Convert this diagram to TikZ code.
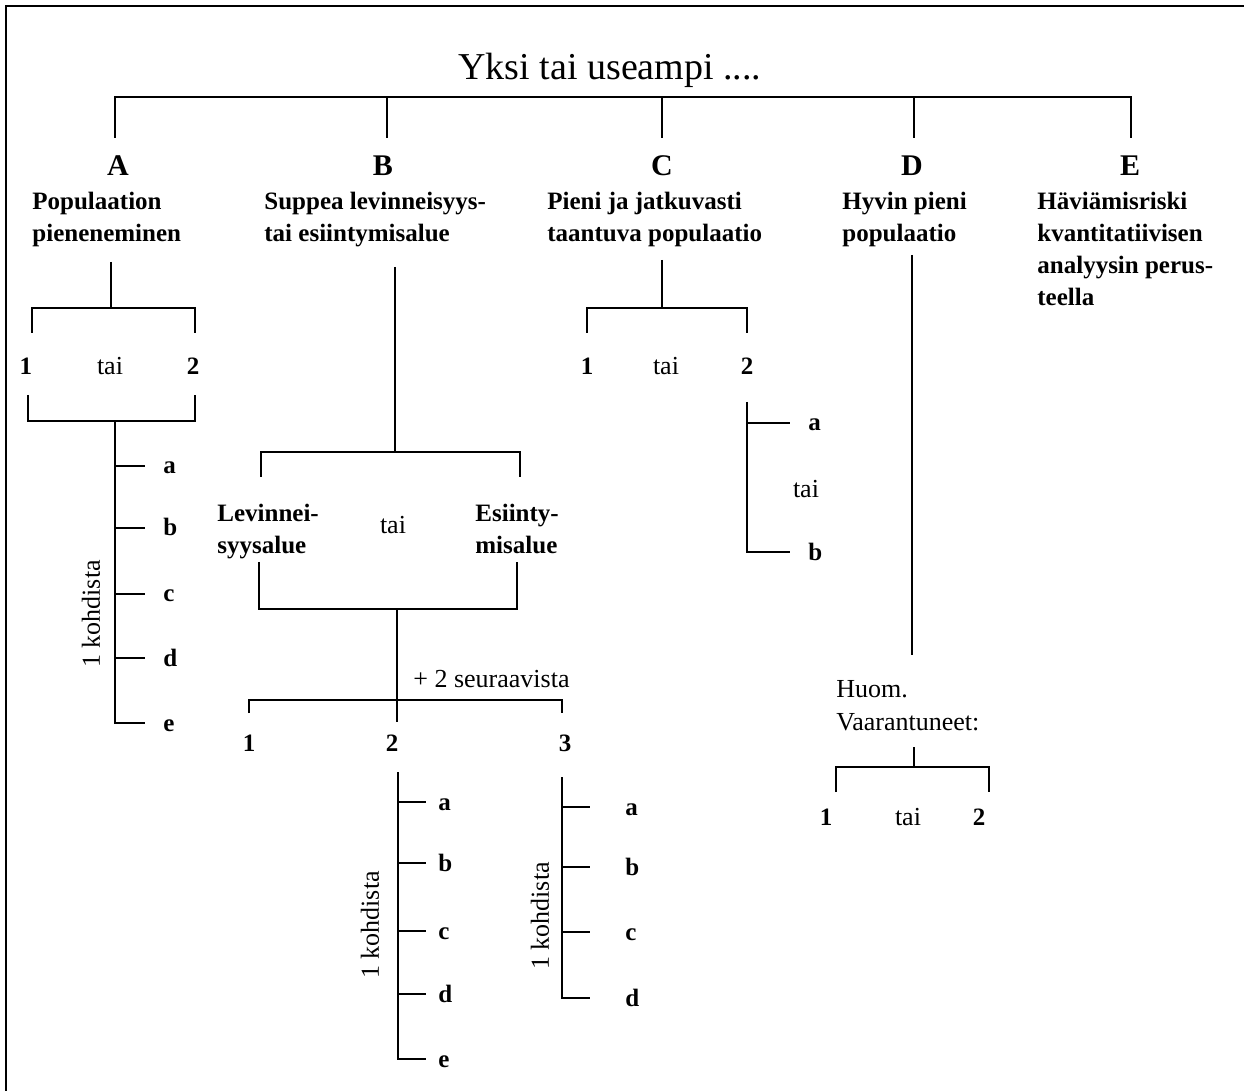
\documentclass[tikz,border=0pt]{standalone}
\usepackage{fontspec}
\setmainfont{Liberation Serif}
\usetikzlibrary{positioning}

\begin{document}
\begin{tikzpicture}[
    x=0.5pt, y=-0.5pt,
    tree/.style={line width=1pt},
    frame/.style={line width=1pt},
    title/.style={font=\fontsize{19}{23}\selectfont, anchor=base, inner sep=0pt},
    letter/.style={font=\bfseries\fontsize{15}{18}\selectfont, anchor=base, inner sep=0pt},
    head/.style={font=\bfseries\fontsize{12.5}{16}\selectfont, align=left, anchor=base west, inner sep=0pt},
    choice/.style={font=\bfseries\fontsize{12.5}{15}\selectfont, anchor=base, inner sep=0pt},
    word/.style={font=\fontsize{13}{16.5}\selectfont, anchor=base, inner sep=0pt},
    item/.style={font=\bfseries\fontsize{12.5}{15}\selectfont, anchor=west, inner sep=0pt, text height=8pt, text depth=0pt},
    tick/.style={tree, shorten >=#1},
    tick/.default=9pt,
    count/.style={font=\fontsize{13}{16}\selectfont, rotate=90, inner sep=0pt}
]
\useasboundingbox (0,0) rectangle (1244,1091);

% Frame
\coordinate (fTL) at (6,6);
\coordinate (fTR) at (1244,6);
\coordinate (fBL) at (6,1091);
\draw[frame] (fTR) -- (fTL) -- (fBL);

% Title and top bar
\node[title] (title) at (610,80) {Yksi tai useampi ....};
\coordinate (tA) at (115,97);
\coordinate (tB) at (387,97);
\coordinate (tC) at (662,97);
\coordinate (tD) at (914,97);
\coordinate (tE) at (1131,97);
\coordinate (dA) at (115,138);
\coordinate (dB) at (387,138);
\coordinate (dC) at (662,138);
\coordinate (dD) at (914,138);
\coordinate (dE) at (1131,138);
\draw[tree] (dA) -- (tA) -- (tE) -- (dE);
\draw[tree] (tB) -- (dB);
\draw[tree] (tC) -- (dC);
\draw[tree] (tD) -- (dD);

% Letters
\node[letter] (letA) at (118,176) {A};
\node[letter] (letB) at (383,176) {B};
\node[letter] (letC) at (662,176) {C};
\node[letter] (letD) at (912,176) {D};
\node[letter] (letE) at (1130,176) {E};

% Criteria (anchored at the baseline of the last line)
\node[head] (headA) at (32,242) {Populaation\\pieneneminen};
\node[head] (headB) at (264,242) {Suppea levinneisyys-\\tai esiintymisalue};
\node[head] (headC) at (547,242) {Pieni ja jatkuvasti\\taantuva populaatio};
\node[head] (headD) at (842,242) {Hyvin pieni\\populaatio};
\node[head] (headE) at (1037,306) {Häviämisriski\\kvantitatiivisen\\analyysin perus-\\teella};

% A: population decline
\coordinate (sA1) at (111,262);
\coordinate (sA2) at (111,308);
\coordinate (bA1) at (32,333);
\coordinate (bA2) at (195,333);
\draw[tree] (sA1) -- (sA2);
\draw[tree] (bA1) |- (sA2) -| (bA2);
\node[choice] (A1) at (26,375) {1};
\node[word] (Atai) at (110,375) {tai};
\node[choice] (A2) at (193,375) {2};
\coordinate (cA1) at (28,395);
\coordinate (cA2) at (195,395);
\coordinate (jA) at (115,421);
\draw[tree] (cA1) |- (jA) -| (cA2);
\node[item] (Aa) at (163,466) {a};
\node[item] (Ab) at (163,528) {b};
\node[item] (Ac) at (163,594) {c};
\node[item] (Ad) at (163,658) {d};
\node[item] (Ae) at (163,723) {e};
\coordinate (sAa) at (115,466);
\coordinate (sAb) at (115,528);
\coordinate (sAc) at (115,594);
\coordinate (sAd) at (115,658);
\draw[tick] (jA) |- (Ae);
\draw[tick] (sAa) -- (Aa);
\draw[tick] (sAb) -- (Ab);
\draw[tick] (sAc) -- (Ac);
\draw[tick] (sAd) -- (Ad);
\node[count] (Acount) at (91,614) {1 kohdista};

% B: restricted range
\coordinate (sB1) at (395,267);
\coordinate (sB2) at (395,452);
\coordinate (bB1) at (261,477);
\coordinate (bB2) at (520,477);
\draw[tree] (sB1) -- (sB2);
\draw[tree] (bB1) |- (sB2) -| (bB2);
\node[head] (lev) at (217,553) {Levinnei-\\syysalue};
\node[word] (Btai) at (393,534) {tai};
\node[head] (esi) at (475,553) {Esiinty-\\misalue};
\coordinate (cB1) at (259,562);
\coordinate (cB2) at (517,562);
\coordinate (jB) at (397,609);
\draw[tree] (cB1) |- (jB) -| (cB2);
\coordinate (sB3) at (397,722);
\draw[tree] (jB) -- (sB3);
\node[word, anchor=base west] (plus) at (413,687) {+ 2 seuraavista};
\coordinate (kB) at (397,700);
\coordinate (bB3) at (249,713);
\coordinate (bB4) at (562,713);
\draw[tree] (bB3) |- (kB) -| (bB4);
\node[choice] (B1) at (249,751) {1};
\node[choice] (B2) at (392,751) {2};
\node[choice] (B3) at (565,751) {3};

% B2 sub-criteria
\coordinate (jB2) at (398,772);
\node[item] (B2a) at (438,802) {a};
\node[item] (B2b) at (438,863) {b};
\node[item] (B2c) at (438,931) {c};
\node[item] (B2d) at (438,994) {d};
\node[item] (B2e) at (438,1059) {e};
\coordinate (sB2a) at (398,802);
\coordinate (sB2b) at (398,863);
\coordinate (sB2c) at (398,931);
\coordinate (sB2d) at (398,994);
\draw[tick=6pt] (jB2) |- (B2e);
\draw[tick=6pt] (sB2a) -- (B2a);
\draw[tick=6pt] (sB2b) -- (B2b);
\draw[tick=6pt] (sB2c) -- (B2c);
\draw[tick=6pt] (sB2d) -- (B2d);
\node[count] (B2count) at (370,925) {1 kohdista};

% B3 sub-criteria
\coordinate (jB3) at (562,777);
\node[item] (B3a) at (625,807) {a};
\node[item] (B3b) at (625,867) {b};
\node[item] (B3c) at (625,932) {c};
\node[item] (B3d) at (625,998) {d};
\coordinate (sB3a) at (562,807);
\coordinate (sB3b) at (562,867);
\coordinate (sB3c) at (562,932);
\draw[tick=17.5pt] (jB3) |- (B3d);
\draw[tick=17.5pt] (sB3a) -- (B3a);
\draw[tick=17.5pt] (sB3b) -- (B3b);
\draw[tick=17.5pt] (sB3c) -- (B3c);
\node[count] (B3count) at (540,916) {1 kohdista};

% C: small and declining population
\coordinate (sC1) at (662,260);
\coordinate (sC2) at (662,308);
\coordinate (bC1) at (587,333);
\coordinate (bC2) at (747,333);
\draw[tree] (sC1) -- (sC2);
\draw[tree] (bC1) |- (sC2) -| (bC2);
\node[choice] (C1) at (587,375) {1};
\node[word] (Ctai1) at (666,375) {tai};
\node[choice] (C2) at (747,375) {2};
\coordinate (jC) at (747,402);
\node[item] (Ca) at (808,423) {a};
\node[word] (Ctai2) at (806,498) {tai};
\node[item] (Cb) at (808,552) {b};
\coordinate (sCa) at (747,423);
\draw[tick] (jC) |- (Cb);
\draw[tick] (sCa) -- (Ca);

% D: very small population
\coordinate (sD1) at (912,255);
\coordinate (sD2) at (912,655);
\draw[tree] (sD1) -- (sD2);
\node[word, anchor=base west, align=left] (huom) at (836,730) {Huom.\\Vaarantuneet:};
\coordinate (sD3) at (914,747);
\coordinate (sD4) at (914,767);
\coordinate (bD1) at (836,792);
\coordinate (bD2) at (989,792);
\draw[tree] (sD3) -- (sD4);
\draw[tree] (bD1) |- (sD4) -| (bD2);
\node[choice] (D1) at (826,825) {1};
\node[word] (Dtai) at (908,825) {tai};
\node[choice] (D2) at (979,825) {2};

\end{tikzpicture}
\end{document}
